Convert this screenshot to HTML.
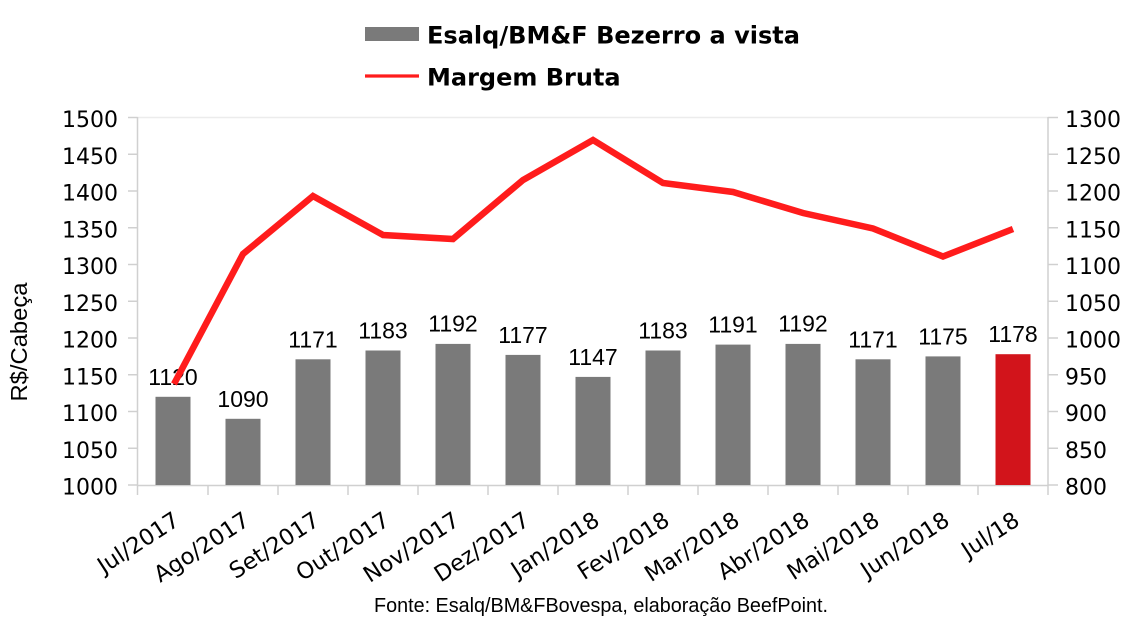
<!DOCTYPE html>
<html>
<head>
<meta charset="utf-8">
<style>
html,body{margin:0;padding:0;background:#fff;}
svg{display:block;}
</style>
</head>
<body>
<svg width="1133" height="632" viewBox="0 0 1133 632" xmlns="http://www.w3.org/2000/svg">
<rect width="1133" height="632" fill="#fff"/>

<!-- Legend -->
<rect x="365" y="27" width="54" height="14" fill="#7a7a7a"/>
<text x="427" y="43.5" font-family="DejaVu Sans, sans-serif" font-weight="bold" font-size="24" textLength="373" lengthAdjust="spacingAndGlyphs">Esalq/BM&amp;F Bezerro a vista</text>
<line x1="365" y1="76" x2="419" y2="76" stroke="#ff1c1c" stroke-width="3.3"/>
<text x="427" y="85.5" font-family="DejaVu Sans, sans-serif" font-weight="bold" font-size="24">Margem Bruta</text>

<!-- Plot frame -->
<line x1="137.5" y1="117.5" x2="1048" y2="117.5" stroke="#ececec" stroke-width="1.5"/>
<line x1="137.5" y1="117" x2="137.5" y2="486" stroke="#d0d0d0" stroke-width="1.5"/>
<line x1="1048" y1="117" x2="1048" y2="486" stroke="#d0d0d0" stroke-width="1.5"/>
<line x1="137" y1="485.5" x2="1048.5" y2="485.5" stroke="#d0d0d0" stroke-width="1.5"/>

<g stroke="#d0d0d0" stroke-width="1.5">
<line x1="128" y1="117.5" x2="137.5" y2="117.5"/>
<line x1="128" y1="154.25" x2="137.5" y2="154.25"/>
<line x1="128" y1="191" x2="137.5" y2="191"/>
<line x1="128" y1="227.75" x2="137.5" y2="227.75"/>
<line x1="128" y1="264.5" x2="137.5" y2="264.5"/>
<line x1="128" y1="301.25" x2="137.5" y2="301.25"/>
<line x1="128" y1="338" x2="137.5" y2="338"/>
<line x1="128" y1="374.75" x2="137.5" y2="374.75"/>
<line x1="128" y1="411.5" x2="137.5" y2="411.5"/>
<line x1="128" y1="448.25" x2="137.5" y2="448.25"/>
<line x1="128" y1="485" x2="137.5" y2="485"/>
<line x1="1048" y1="117.5" x2="1058" y2="117.5"/>
<line x1="1048" y1="154.25" x2="1058" y2="154.25"/>
<line x1="1048" y1="191" x2="1058" y2="191"/>
<line x1="1048" y1="227.75" x2="1058" y2="227.75"/>
<line x1="1048" y1="264.5" x2="1058" y2="264.5"/>
<line x1="1048" y1="301.25" x2="1058" y2="301.25"/>
<line x1="1048" y1="338" x2="1058" y2="338"/>
<line x1="1048" y1="374.75" x2="1058" y2="374.75"/>
<line x1="1048" y1="411.5" x2="1058" y2="411.5"/>
<line x1="1048" y1="448.25" x2="1058" y2="448.25"/>
<line x1="1048" y1="485" x2="1058" y2="485"/>
<line x1="137.5" y1="485" x2="137.5" y2="495"/>
<line x1="208" y1="485" x2="208" y2="495"/>
<line x1="278" y1="485" x2="278" y2="495"/>
<line x1="348" y1="485" x2="348" y2="495"/>
<line x1="418" y1="485" x2="418" y2="495"/>
<line x1="488" y1="485" x2="488" y2="495"/>
<line x1="558" y1="485" x2="558" y2="495"/>
<line x1="628" y1="485" x2="628" y2="495"/>
<line x1="698" y1="485" x2="698" y2="495"/>
<line x1="768" y1="485" x2="768" y2="495"/>
<line x1="838" y1="485" x2="838" y2="495"/>
<line x1="908" y1="485" x2="908" y2="495"/>
<line x1="978" y1="485" x2="978" y2="495"/>
<line x1="1048" y1="485" x2="1048" y2="495"/>
</g>

<g font-family="DejaVu Sans, sans-serif" font-size="22" fill="#000" text-anchor="end">
<text x="118" y="127">1500</text>
<text x="118" y="163.75">1450</text>
<text x="118" y="200.5">1400</text>
<text x="118" y="237.25">1350</text>
<text x="118" y="274">1300</text>
<text x="118" y="310.75">1250</text>
<text x="118" y="347.5">1200</text>
<text x="118" y="384.25">1150</text>
<text x="118" y="421">1100</text>
<text x="118" y="457.75">1050</text>
<text x="118" y="494.5">1000</text>
</g>
<g font-family="DejaVu Sans, sans-serif" font-size="22" fill="#000" text-anchor="start">
<text x="1065" y="127">1300</text>
<text x="1065" y="163.75">1250</text>
<text x="1065" y="200.5">1200</text>
<text x="1065" y="237.25">1150</text>
<text x="1065" y="274">1100</text>
<text x="1065" y="310.75">1050</text>
<text x="1065" y="347.5">1000</text>
<text x="1065" y="384.25">950</text>
<text x="1065" y="421">900</text>
<text x="1065" y="457.75">850</text>
<text x="1065" y="494.5">800</text>
</g>

<text transform="translate(27,342) rotate(-90)" text-anchor="middle" font-family="Liberation Sans, Arial, sans-serif" font-size="23.5" textLength="119" lengthAdjust="spacingAndGlyphs">R$/Cabeça</text>

<g fill="#7a7a7a">
<rect x="155.5" y="396.8" width="35" height="88.2"/>
<rect x="225.5" y="418.8" width="35" height="66.2"/>
<rect x="295.5" y="359.3" width="35" height="125.7"/>
<rect x="365.5" y="350.5" width="35" height="134.5"/>
<rect x="435.5" y="343.9" width="35" height="141.1"/>
<rect x="505.5" y="354.9" width="35" height="130.1"/>
<rect x="575.5" y="376.9" width="35" height="108.1"/>
<rect x="645.5" y="350.5" width="35" height="134.5"/>
<rect x="715.5" y="344.6" width="35" height="140.4"/>
<rect x="785.5" y="343.9" width="35" height="141.1"/>
<rect x="855.5" y="359.3" width="35" height="125.7"/>
<rect x="925.5" y="356.4" width="35" height="128.6"/>
</g>
<rect x="995.5" y="354.2" width="35" height="130.8" fill="#d2141b"/>

<g font-family="Liberation Sans, Arial, sans-serif" font-size="23" fill="#000" text-anchor="middle">
<text x="173" y="385">1120</text>
<text x="243" y="407">1090</text>
<text x="313" y="347.5">1171</text>
<text x="383" y="338.5">1183</text>
<text x="453" y="331.5">1192</text>
<text x="523" y="343">1177</text>
<text x="593" y="365">1147</text>
<text x="663" y="338.5">1183</text>
<text x="733" y="332.5">1191</text>
<text x="803" y="331.5">1192</text>
<text x="873" y="347.5">1171</text>
<text x="943" y="344.5">1175</text>
<text x="1013" y="342">1178</text>
</g>

<polyline fill="none" stroke="#ff1c1c" stroke-width="6.5" stroke-linejoin="miter" stroke-linecap="butt"
points="174,384 243,254 313,196 383,235 453,239 523,180 593,140 663,183 733,192 803,213 873,228.5 943,256.5 1013,229"/>

<g font-family="DejaVu Sans, sans-serif" font-size="22.5" fill="#000" text-anchor="end">
<text transform="translate(181,524) rotate(-33)">Jul/2017</text>
<text transform="translate(251,524) rotate(-33)">Ago/2017</text>
<text transform="translate(321,524) rotate(-33)">Set/2017</text>
<text transform="translate(391,524) rotate(-33)">Out/2017</text>
<text transform="translate(461,524) rotate(-33)">Nov/2017</text>
<text transform="translate(531,524) rotate(-33)">Dez/2017</text>
<text transform="translate(601,524) rotate(-33)">Jan/2018</text>
<text transform="translate(671,524) rotate(-33)">Fev/2018</text>
<text transform="translate(741,524) rotate(-33)">Mar/2018</text>
<text transform="translate(811,524) rotate(-33)">Abr/2018</text>
<text transform="translate(881,524) rotate(-33)">Mai/2018</text>
<text transform="translate(951,524) rotate(-33)">Jun/2018</text>
<text transform="translate(1021,524) rotate(-33)">Jul/18</text>
</g>

<text x="374" y="612" font-family="Liberation Sans, Arial, sans-serif" font-size="20" textLength="454" lengthAdjust="spacingAndGlyphs">Fonte: Esalq/BM&amp;FBovespa, elaboração BeefPoint.</text>
</svg>
</body>
</html>
